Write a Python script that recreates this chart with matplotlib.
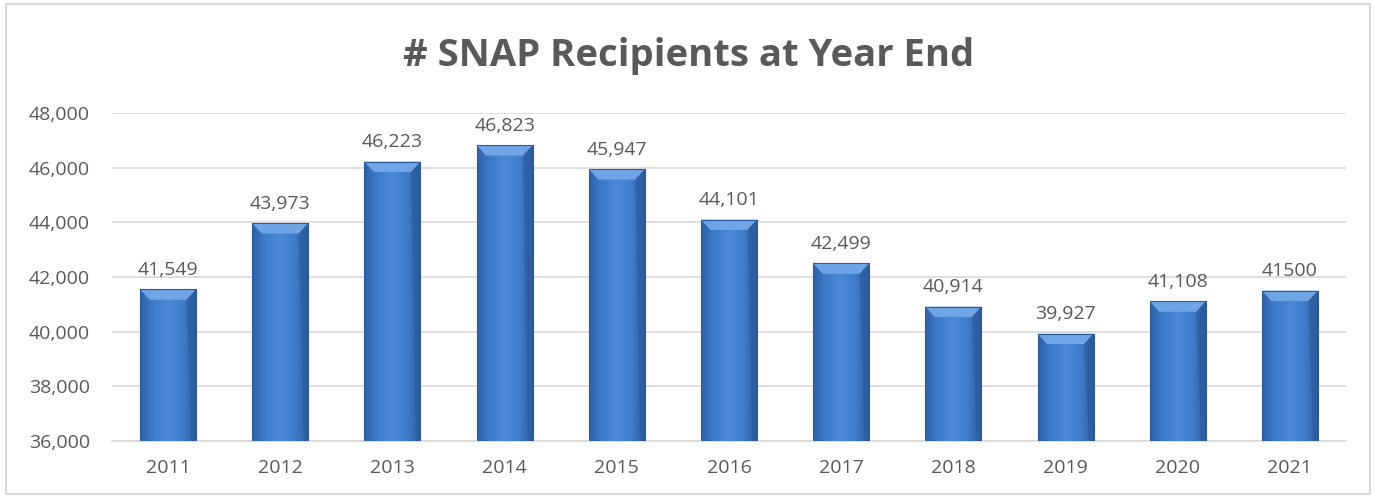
import numpy as np
import matplotlib.pyplot as plt
from matplotlib.patches import Rectangle, Polygon
from matplotlib.colors import LinearSegmentedColormap

# Data
years = ['2011', '2012', '2013', '2014', '2015', '2016', '2017', '2018', '2019', '2020', '2021']
recipients = [41549, 43973, 46223, 46823, 45947, 44101, 42499, 40914, 39927, 41108, 41500]
labels = ['41,549', '43,973', '46,223', '46,823', '45,947', '44,101', '42,499',
          '40,914', '39,927', '41,108', '41500']

plt.rcParams['font.family'] = ['Open Sans', 'DejaVu Sans']
text_color = '#595959'

fig = plt.figure(figsize=(13.77, 4.98), dpi=100)
ax = fig.add_axes([0.0813, 0.1145, 0.8962, 0.6585])

# chart border
fig.patches.append(Rectangle((0.004, 0.008), 0.991, 0.984, transform=fig.transFigure,
                             fill=False, edgecolor='#d9d9d9', linewidth=1.5))

ax.set_ylim(36000, 48000)
ax.set_xlim(-0.5, len(years) - 0.5)

x = np.arange(len(years))
base = 36000
bars = ax.bar(x, np.array(recipients) - base, bottom=base, width=0.5,
              color='none', edgecolor='#2a5a98', linewidth=0.8, zorder=5)

# gradient fill with a bevelled top, like the office chart style
grad = LinearSegmentedColormap.from_list('bar', ['#2f62a6', '#3f7dcc', '#4a8ad8', '#3f7dcc', '#2d5e9f'])
g = np.linspace(0, 1, 64).reshape(1, -1)
bevel_h = 380
bevel_w = 0.085
for b in bars:
    x0, y0 = b.get_x(), b.get_y()
    x1, y1 = x0 + b.get_width(), y0 + b.get_height()
    im = ax.imshow(g, cmap=grad, aspect='auto', extent=(x0, x1, y0, y1), zorder=3)
    im.set_clip_path(b)
    ax.add_patch(Polygon([(x0, y1), (x1, y1), (x1 - bevel_w, y1 - bevel_h), (x0 + bevel_w, y1 - bevel_h)],
                         closed=True, facecolor='#6fa5e6', edgecolor='none', zorder=4))
    ax.add_patch(Polygon([(x1, y1), (x1, y0), (x1 - bevel_w * 0.5, y0), (x1 - bevel_w, y1 - bevel_h)],
                         closed=True, facecolor='#2b5a99', edgecolor='none', alpha=0.6, zorder=4))

for xi, v, lab in zip(x, recipients, labels):
    ax.text(xi, v + 380, lab, ha='center', va='bottom', fontsize=14, color=text_color)

ax.set_xlim(-0.5, len(years) - 0.5)
ax.set_ylim(36000, 48000)
ax.set_yticks(np.arange(36000, 48001, 2000))
ax.set_yticklabels([f'{t:,}' for t in range(36000, 48001, 2000)])
ax.set_xticks(x)
ax.set_xticklabels(years)
ax.tick_params(colors=text_color, labelsize=14, length=0)
ax.tick_params(axis='y', pad=16)
ax.tick_params(axis='x', pad=13)
ax.grid(axis='y', color='#d9d9d9', linewidth=1.2, zorder=0)
for s in ['top', 'right', 'left']:
    ax.spines[s].set_visible(False)
ax.spines['bottom'].set_color('#d9d9d9')
ax.spines['bottom'].set_linewidth(1.2)

fig.text(0.5, 0.888, '# SNAP Recipients at Year End', ha='center', va='center',
         fontsize=27.5, fontweight='bold', color=text_color)

fig.savefig('out.png', dpi=100)
